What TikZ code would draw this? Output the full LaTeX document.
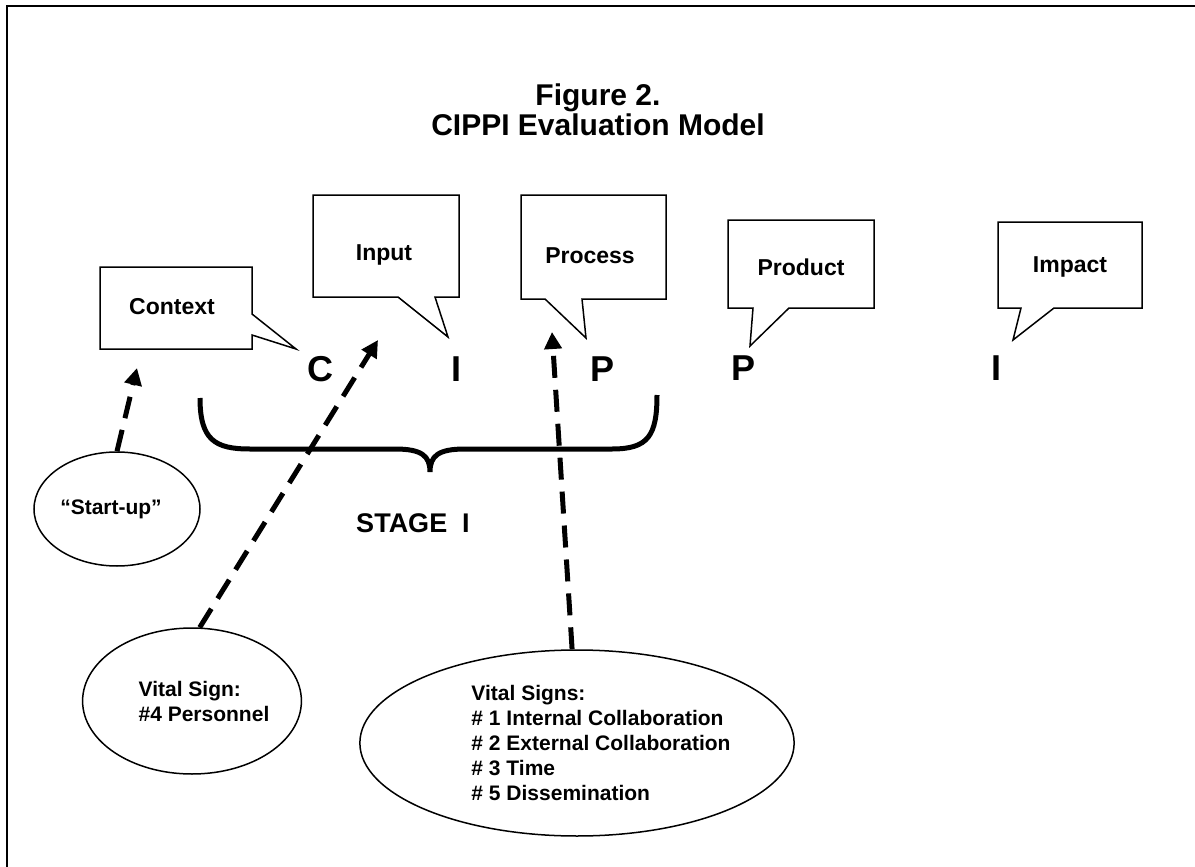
\documentclass[tikz,border=0pt]{standalone}
\usepackage{fontspec}
\setmainfont{Liberation Sans}
\usepackage{tikz}
\usetikzlibrary{shapes.geometric,arrows.meta}

\begin{document}
\begin{tikzpicture}[%
  x=1pt, y=-1pt,
  bubble/.style={draw, line width=1.5pt, fill=white, line join=miter},
  word/.style={inner sep=0pt, font=\fontsize{23}{26}\selectfont\bfseries},
  oval/.style={ellipse, draw, line width=1.5pt, inner sep=0pt, align=left,
    font=\fontsize{21}{25}\selectfont\bfseries},
  letter/.style={inner sep=0pt, font=\fontsize{36}{36}\selectfont\bfseries},
  pointer/.style={-{Triangle[length=17pt,width=17pt]}, line width=5pt,
    dash pattern=on 22pt off 12pt},
  ]
  \useasboundingbox (0,0) rectangle (1195,867);
  \draw[line width=2.5pt] (1195,6) -- (7,6) -- (7,867);
  \node[align=center, font=\fontsize{30}{30}\selectfont\bfseries] (title) at (598,110)
    {Figure 2.\\CIPPI Evaluation Model};

  \draw[bubble] (100,267) -- (252,267) -- (252,314) -- (296,349) -- (252,335)
    -- (252,349) -- (100,349) -- cycle;
  \draw[bubble] (313,195) -- (459,195) -- (459,297) -- (435,297) -- (448,337)
    -- (398,297) -- (313,297) -- cycle;
  \draw[bubble] (521,195) -- (666,195) -- (666,299) -- (582,299) -- (586,338)
    -- (545,299) -- (521,299) -- cycle;
  \draw[bubble] (728,220) -- (874,220) -- (874,308) -- (789,308) -- (750,346)
    -- (753,308) -- (728,308) -- cycle;
  \draw[bubble] (998,222) -- (1142,222) -- (1142,308) -- (1054,308) -- (1013,340)
    -- (1021,308) -- (998,308) -- cycle;
  \node[word] (context) at (172,307) {Context};
  \node[word] (input) at (384,255) {Input};
  \node[word] (process) at (590,256) {Process};
  \node[word] (product) at (801,267) {Product};
  \node[word] (impact) at (1070,267) {Impact};

  \node[letter] (letC) at (320,369) {C};
  \node[letter] (letI) at (456,369) {I};
  \node[letter] (letP) at (602,369) {P};
  \node[letter] (letPP) at (743,368) {P};
  \node[letter] (letII) at (996,368) {I};

  \draw[line width=5pt] (200,398) .. controls (200,440) and (215,449) .. (250,449)
    -- (395,449) .. controls (422,449) and (430,456) .. (430,472)
    .. controls (430,456) and (438,449) .. (465,449)
    -- (612,449) .. controls (648,449) and (657,436) .. (657,395);
  \node[font=\fontsize{27}{27}\selectfont\bfseries] (stage) at (413,523) {STAGE~ I};

  \node[oval, minimum width=166pt, minimum height=114pt] (startup) at (117,509)
    {\hspace*{-12pt}``Start-up''};
  \node[oval, minimum width=214pt, minimum height=146pt] (vsign) at (192,701)
    {\hspace*{24pt}Vital Sign:\\\hspace*{24pt}\#4 Personnel};
  \node[oval, minimum width=344pt, minimum height=186pt] (vsigns) at (577,743)
    {\hspace*{48pt}Vital Signs:\\\hspace*{48pt}\# 1 Internal Collaboration\\
     \hspace*{48pt}\# 2 External Collaboration\\\hspace*{48pt}\# 3 Time\\
     \hspace*{48pt}\# 5 Dissemination};

  \coordinate (tipC) at (137,368);
  \coordinate (tipI) at (378,340);
  \coordinate (tipP) at (552,332);
  \draw[pointer] (startup.north) -- (tipC);
  \draw[pointer] (vsign.84) -- (tipI);
  \draw[pointer] (vsigns.93) -- (tipP);
\end{tikzpicture}
\end{document}
